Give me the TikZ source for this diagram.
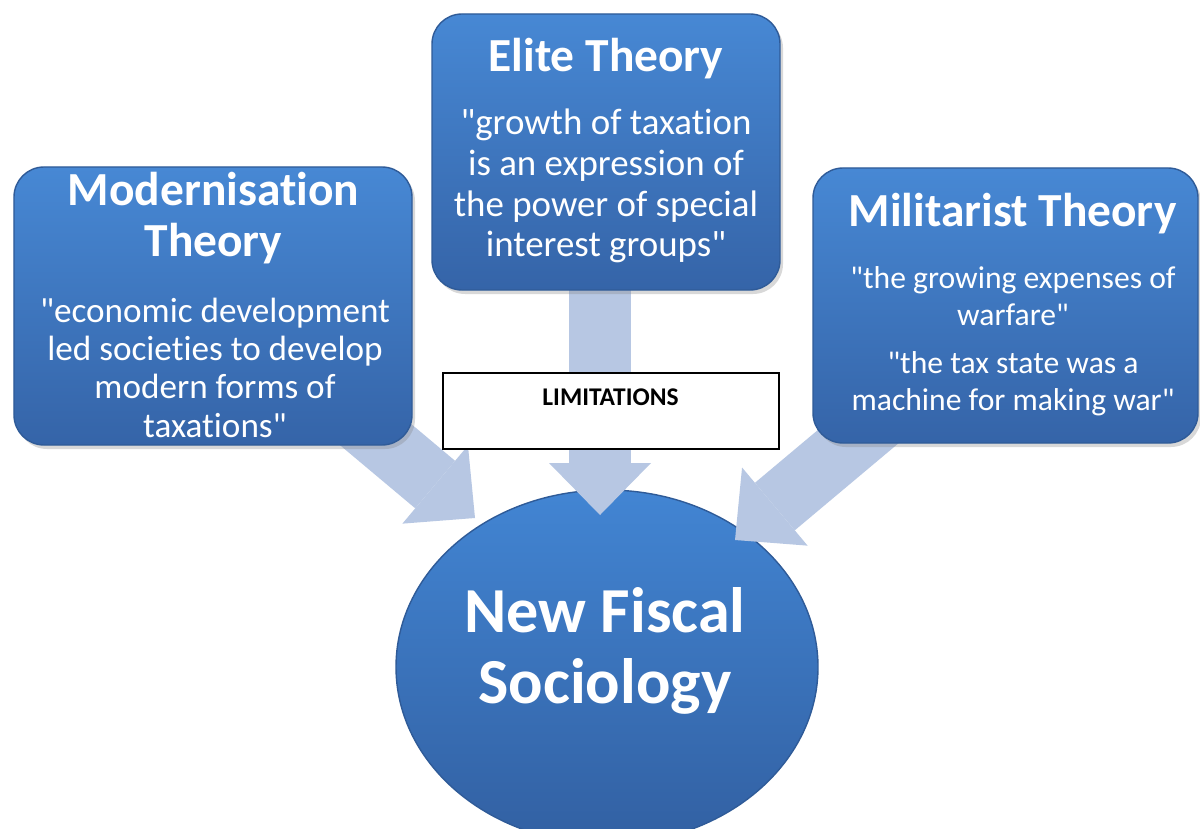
\documentclass[tikz,border=0pt]{standalone}
\usepackage{fontspec}
\setmainfont{Carlito}[Ligatures={TeXOff,NoCommon}]
\usetikzlibrary{arrows.meta,shapes.geometric,shadows,calc}

\definecolor{boxTop}{HTML}{4788D4}
\definecolor{boxBot}{HTML}{3564A8}
\definecolor{boxRim}{HTML}{2F5B98}
\definecolor{hubTop}{HTML}{4285D3}
\definecolor{hubBot}{HTML}{3260A2}
\definecolor{arrowFill}{HTML}{B7C7E3}

\tikzset{
  theory/.style={rounded corners=0.6cm, top color=boxTop, bottom color=boxBot,
    draw=boxRim, line width=0.8pt,
    drop shadow={opacity=0.3, shadow xshift=0.06cm, shadow yshift=-0.08cm}},
  fat/.style={draw=arrowFill, line width=1.24cm,
    -{Triangle[length=1.04cm, width=2.04cm, line width=0pt]}},
  ttl/.style={text=white, align=center, anchor=base, inner sep=0pt,
    font=\fontsize{27}{29.5}\selectfont\bfseries},
  bdy/.style={text=white, align=center, anchor=base, inner sep=0pt}
}

\begin{document}
\begin{tikzpicture}
  % page
  \fill[white] (0,0) rectangle (24,16.56);
  \useasboundingbox (0,0) rectangle (24,16.56);

  % hub
  \node[ellipse, minimum width=8.44cm, minimum height=7.08cm,
    top color=hubTop, bottom color=hubBot, draw=boxRim, line width=0.8pt] (fiscal) at (12.14,3.22) {};

  % arrows into the hub
  \coordinate (tipM) at (9.5,6.2);
  \coordinate (tipE) at (12.0,6.26);
  \coordinate (tipR) at (14.7,5.76);
  \foreach \tip/\ang in {tipM/140, tipE/90, tipR/40}
  {
    \draw[fat] ($(\tip)+(\ang:5)$) -- (\tip);
  }

  % theory boxes (text nodes sit on the baseline of their last line)
  \node[theory, minimum width=7.96cm, minimum height=5.56cm] (mod) at (4.26,10.44) {};
  \node[theory, minimum width=6.96cm, minimum height=5.52cm] (elite) at (12.12,13.52) {};
  \node[theory, minimum width=7.7cm, minimum height=5.5cm] (mil) at (20.11,10.45) {};

  \node[ttl] (modTitle) at (4.27,11.42) {Modernisation\\Theory};
  \node[bdy, font=\fontsize{20}{21.7}\selectfont] (modQuote) at (4.3,7.82)
    {"economic development\\led societies to develop\\modern forms of\\taxations"};

  \node[ttl] (eliteTitle) at (12.12,15.12) {Elite Theory};
  \node[bdy, font=\fontsize{21}{23.2}\selectfont] (eliteQuote) at (12.12,11.42)
    {"growth of taxation\\is an expression of\\the power of special\\interest groups"};

  \node[ttl] (milTitle) at (20.25,12.02) {Militarist Theory};
  \node[bdy, font=\fontsize{18}{21}\selectfont] (milQuote) at (20.26,8.36)
    {"the growing expenses of\\warfare"\\[6pt]"the tax state was a\\machine for making war"};

  % limitations
  \node[draw=black, fill=white, line width=0.7pt, minimum width=6.72cm, minimum height=1.52cm] (lim) at (12.22,8.34) {};
  \node[anchor=base, inner sep=0pt, font=\fontsize{14.5}{16}\selectfont\bfseries] (limText) at (12.21,8.46) {LIMITATIONS};

  \node[ttl, font=\fontsize{36.5}{40.3}\selectfont\bfseries] (fiscalText) at (12.1,2.5) {New Fiscal\\Sociology};
\end{tikzpicture}
\end{document}
